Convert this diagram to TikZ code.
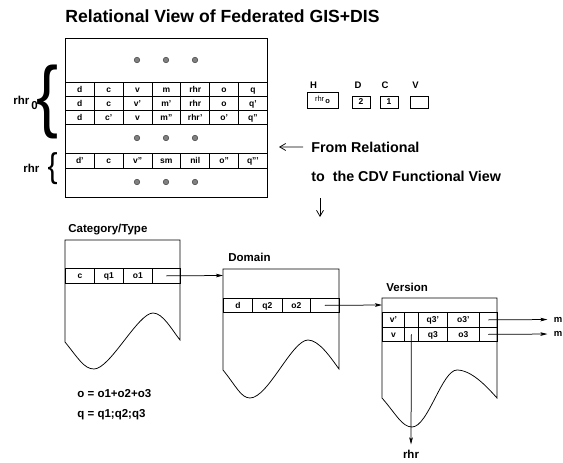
\documentclass[tikz,border=0pt]{standalone}
\usepackage{fontspec}
\setmainfont{Liberation Sans}
\usetikzlibrary{arrows.meta}
\begin{document}
\begin{tikzpicture}[x=1pt,y=-1pt,line width=0.75pt,
  lbl/.style={inner sep=0pt,font=\bfseries\fontsize{11.5}{13}\selectfont},
  big/.style={inner sep=0pt,font=\bfseries\fontsize{14.3}{16}\selectfont},
  cell/.style={draw,anchor=north west,inner sep=0pt,minimum height=14pt,text height=6.2pt,text depth=0pt,font=\bfseries\fontsize{8.5}{9}\selectfont},
  hdr/.style={inner sep=0pt,font=\bfseries\fontsize{9.5}{10}\selectfont},
  smallbox/.style={draw,minimum width=18pt,minimum height=12pt,inner sep=0pt,font=\bfseries\fontsize{8.5}{9}\selectfont},
  dotn/.style={circle,draw=black!75,fill=black!50,minimum size=5.5pt,inner sep=0pt,line width=0.5pt},
  arr/.style={-{Stealth[length=7pt,width=3.6pt,inset=1.5pt]}},
  barb/.style={-{Straight Barb[length=6pt,width=7pt]}},
]
\useasboundingbox (0,0) rectangle (563,463);

% title
\node[anchor=base west,inner sep=0pt,font=\bfseries\fontsize{17.6}{20}\selectfont] (title) at (65,23) {Relational View of Federated GIS+DIS};

% relational table
\node[draw,minimum width=202pt,minimum height=159pt,inner sep=0pt] (rel) at (166,117.5) {};
\foreach \r/\y/\h/\lst in {a/82/14/{d,c,v,m,rhr,o,q}, b/96/14/{d,c,v’,m’,rhr,o,q’}, c/110/14/{d,c’,v,m”,rhr’,o’,q”}, e/153/15/{d’,c,v”,sm,nil,o”,q”’}}{
  \foreach \t [count=\i] in \lst {
    \node[cell,minimum width=28.857pt,minimum height=\h pt] (\r\i) at ({65+(\i-1)*28.857},\y) {\t};
  }
}
\foreach \yy/\n in {60/u,138/m,182/l}{
  \foreach \xx [count=\k] in {137,166,195}{
    \node[dotn] (dot\n\k) at (\xx,\yy) {};
  }
}

% braces and labels
\node[inner sep=0pt] (br0) at (48,102) {\resizebox*{22pt}{74pt}{\fontsize{40}{40}\selectfont\{}};
\node[inner sep=0pt] (br1) at (52.5,169) {\resizebox*{10pt}{32pt}{\fontsize{30}{30}\selectfont\{}};
\node[lbl,anchor=base west] (rhr0) at (13,104) {rhr\hspace{2pt}\raisebox{-5pt}{0}};
\node[lbl,anchor=base west] (rhr1) at (23,172) {rhr};

% H D C V
\node[hdr] (Hl) at (313.5,85) {H};
\node[hdr] (Dl) at (358,85) {D};
\node[hdr] (Cl) at (385,85) {C};
\node[hdr] (Vl) at (415.5,85) {V};
\node[draw,minimum width=31pt,minimum height=16pt,inner sep=0pt] (Hb) at (322.5,100) {\fontsize{7.5}{8}\selectfont rhr\,\raisebox{-2.5pt}{\bfseries o}};
\node[smallbox] (Db) at (361,102) {2};
\node[smallbox] (Cb) at (389,102) {1};
\node[smallbox] (Vb) at (419,102) {};

% from relational
\node[big,anchor=base west] (from) at (311,152) {From Relational};
\node[big,anchor=base west] (tocdv) at (311,181) {to\ \ the CDV Functional View};
\coordinate (fromarr) at (279,147);
\draw[barb,shorten <=8pt] (from.west) -- (fromarr);
\coordinate (dnA) at (320,198);
\coordinate (dnB) at (320,217);
\draw[barb] (dnA) -- (dnB);

% Category/Type
\node[lbl,anchor=base west] (catl) at (68,232) {Category/Type};
\draw (65,342) -- (65,240) -- (180,240) -- (180,340) .. controls (172,330) and (163,313) .. (153,313) .. controls (138,313) and (110,369) .. (94,369) .. controls (84,369) and (78,358) .. (65,342);
\node[cell,minimum width=29pt,minimum height=15pt] (cat1) at (65,268) {c};
\node[cell,minimum width=29pt,minimum height=15pt] (cat2) at (94,268) {q1};
\node[cell,minimum width=29pt,minimum height=15pt] (cat3) at (123,268) {o1};
\node[cell,minimum width=28pt,minimum height=15pt] (cat4) at (152,268) {};

% Domain
\node[lbl,anchor=base west] (doml) at (228,261) {Domain};
\draw (223,370) -- (223,269) -- (339,269) -- (339,369) .. controls (331,358) and (319,340) .. (308,340) .. controls (292,340) and (268,398) .. (250,398) .. controls (241,398) and (236,386) .. (223,370);
\node[cell,minimum width=29pt] (dom1) at (223,298) {d};
\node[cell,minimum width=30pt] (dom2) at (252,298) {q2};
\node[cell,minimum width=28pt] (dom3) at (282,298) {o2};
\node[cell,minimum width=29pt] (dom4) at (310,298) {};

% Version
\node[lbl,anchor=base west] (verl) at (386,291) {Version};
\draw (382,398) -- (382,298) -- (497,298) -- (497,398) .. controls (488,388) and (472,370) .. (457,370) .. controls (442,370) and (428,427) .. (412,427) .. controls (402,427) and (396,414) .. (382,398);
\foreach \r/\y/\h in {1/312/15, 2/327/14}{
  \foreach \x/\w [count=\i] in {382/22,404/14,418/29,447/32,479/18}{
    \node[cell,minimum width=\w pt,minimum height=\h pt] (ver\r-\i) at (\x,\y) {};
  }
}
\node[cell,draw=none,minimum width=22pt,minimum height=15pt] (v1t) at (382,312) {v’};
\node[cell,draw=none,minimum width=29pt,minimum height=15pt] (q31t) at (418,312) {q3’};
\node[cell,draw=none,minimum width=32pt,minimum height=15pt] (o31t) at (447,312) {o3’};
\node[cell,draw=none,minimum width=22pt,minimum height=14pt] (v2t) at (382,327) {v};
\node[cell,draw=none,minimum width=29pt,minimum height=14pt] (q32t) at (418,327) {q3};
\node[cell,draw=none,minimum width=32pt,minimum height=14pt] (o32t) at (447,327) {o3};

% connectors
\coordinate (domin) at (223,275.5);
\draw[arr] (cat4.center) -- (domin);
\coordinate (verin) at (382,305);
\draw[arr] (dom4.center) -- (verin);
\node[inner sep=0pt,font=\bfseries\fontsize{9.5}{10}\selectfont] (m1) at (558,319.5) {m};
\node[inner sep=0pt,font=\bfseries\fontsize{9.5}{10}\selectfont] (m2) at (558,334) {m};
\draw[arr,shorten >=6pt] (ver1-5.center) -- (m1.west);
\draw[arr,shorten >=6pt] (ver2-5.center) -- (m2.west);
\node[lbl] (rhrB) at (411,454) {rhr};
\draw[arr,shorten >=5pt] (ver2-2.center) -- (rhrB.north);

% equations
\node[lbl,anchor=base west] (eqo) at (77,397) {o = o1+o2+o3};
\node[lbl,anchor=base west] (eqq) at (77,417) {q = q1;q2;q3};
\end{tikzpicture}
\end{document}
